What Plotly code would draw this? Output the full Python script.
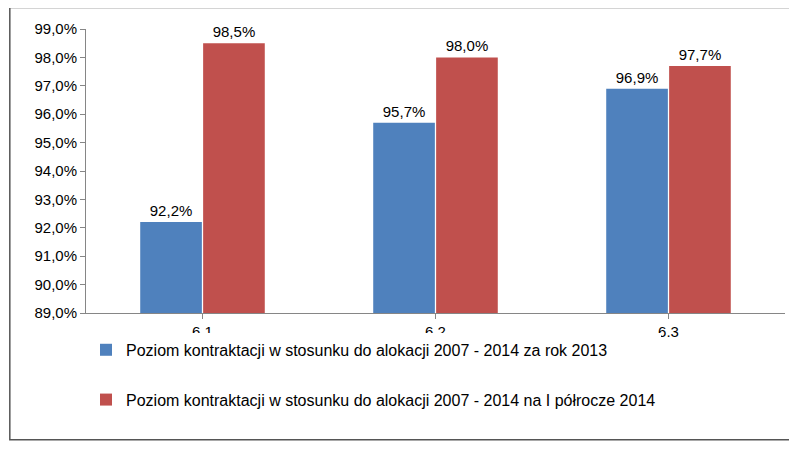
import plotly.graph_objects as go

categories = ["6.1", "6.2", "6.3"]
s2013 = [0.922, 0.957, 0.969]
s2014 = [0.985, 0.980, 0.977]
name2013 = "Poziom kontraktacji w stosunku do alokacji 2007 - 2014 za rok 2013"
name2014 = "Poziom kontraktacji w stosunku do alokacji 2007 - 2014 na I półrocze 2014"

fig = go.Figure()
fig.add_bar(x=categories, y=s2013, name=name2013, marker_color="#4F81BD",
            text=[f"{v*100:.1f}%".replace(".", ",") for v in s2013], textposition="outside",
            legendgroup="a", marker_line_width=0)
fig.add_bar(x=categories, y=s2014, name=name2014, marker_color="#C0504D",
            text=[f"{v*100:.1f}%".replace(".", ",") for v in s2014], textposition="outside",
            legendgroup="b", marker_line_width=0)
fig.update_traces(cliponaxis=False, textfont=dict(size=15, color="#000"))
fig.update_layout(
    width=797, height=451, barmode="group", bargap=0.46, bargroupgap=0.02,
    margin=dict(l=78, r=20, t=16, b=146),
    plot_bgcolor="white", paper_bgcolor="white",
    font=dict(family="Liberation Sans", size=15, color="#000"),
    separators=", ",
    yaxis=dict(range=[0.89, 0.99], dtick=0.01, tickformat=".1%", showgrid=False,
               showline=True, linecolor="#868686", ticks="outside", ticklen=5, tickcolor="#868686"),
    xaxis=dict(showline=True, linecolor="#868686", ticks="outside", tickcolor="#868686"),
    legend=dict(orientation="v", x=0.0, y=-0.07, xanchor="left", yanchor="top",
                tracegroupgap=26, font=dict(size=16), itemwidth=30),
    shapes=[dict(type="rect", xref="paper", yref="paper", x0=-0.109, x1=1.013,
                 y0=-0.446, y1=1.076, line=dict(color="#555", width=1.5))],
)
fig.write_html("out.html")
